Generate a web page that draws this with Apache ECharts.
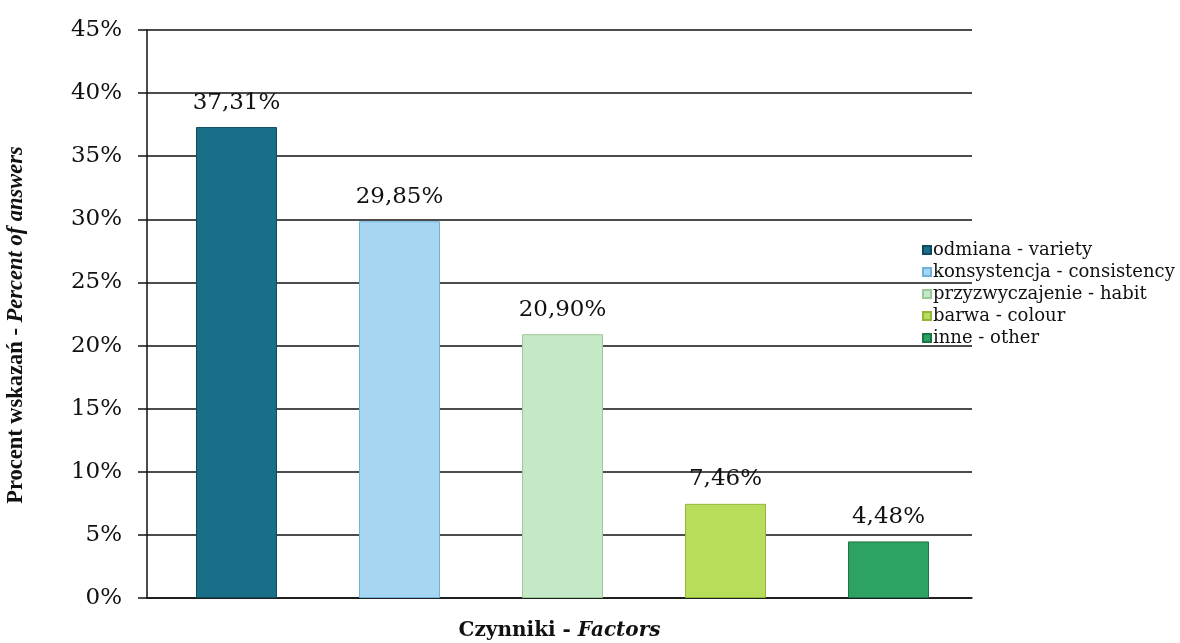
<!DOCTYPE html>
<html><head><meta charset="utf-8">
<script src="https://cdn.jsdelivr.net/npm/echarts@6/dist/echarts.min.js"></script>
<style>html,body{margin:0;background:#fff}#c{width:1180px;height:643px}</style>
</head><body><div id="c"></div>
<script>
const categories = ['odmiana - variety', 'konsystencja - consistency', 'przyzwyczajenie - habit', 'barwa - colour', 'inne - other'];
const values = [37.31, 29.85, 20.90, 7.46, 4.48];
const yTicks = { min: 0, max: 45, interval: 5 };

const fills = ['#1a6f88', '#a6d6f2', '#c5e9c7', '#b7dd5b', '#2ea263'];
const borders = ['#0f4a5e', '#6fb3d8', '#9cc99a', '#8fb83a', '#1a7444'];
const SERIF = '"Liberation Serif", "Times New Roman", serif';
const WIDE = '"DejaVu Serif", serif';

const chart = echarts.init(document.getElementById('c'), null, { renderer: 'canvas' });

const series = categories.map((name, i) => ({
  name: name,
  type: 'bar',
  xAxisIndex: 1,
  yAxisIndex: 1,
  barWidth: 81,
  barGap: '-100%',
  data: categories.map((c, j) => (j === i ? values[i] : null)),
  itemStyle: { color: fills[i], borderColor: borders[i], borderWidth: 1 },
  label: {
    show: true,
    position: 'top',
    distance: 13,
    fontFamily: WIDE,
    fontSize: 23,
    color: '#111',
    formatter: p => p.value.toFixed(2).replace('.', ',') + '%'
  }
}));

chart.setOption({
  backgroundColor: '#fff',
  animation: false,
  grid: [
    { left: 147, right: 208, top: 30, bottom: 45, outerBoundsMode: 'none', containLabel: false },
    { left: 155, width: 815, top: 30, bottom: 45, outerBoundsMode: 'none', containLabel: false }
  ],
  legend: {
    orient: 'vertical',
    left: 917,
    top: 236,
    icon: 'rect',
    itemWidth: 8,
    itemHeight: 8,
    itemGap: 4,
    textStyle: { fontFamily: WIDE, fontSize: 18, color: '#111', padding: [0, 0, 0, -3] },
    data: categories
  },
  xAxis: [
    {
      gridIndex: 0,
      type: 'category',
      data: categories,
      axisLine: { show: true, lineStyle: { color: '#111', width: 1.5 } },
      axisTick: { show: false },
      axisLabel: { show: false },
      name: '{a|Czynniki - }{b|Factors}',
      nameLocation: 'middle',
      nameGap: 23,
      nameTextStyle: {
        rich: {
          a: { fontFamily: WIDE, fontSize: 20, fontWeight: 'bold', color: '#111' },
          b: { fontFamily: WIDE, fontSize: 20, fontWeight: 'bold', fontStyle: 'italic', color: '#111' }
        }
      }
    },
    {
      gridIndex: 1,
      type: 'category',
      data: categories,
      show: false
    }
  ],
  yAxis: [
    {
      gridIndex: 0,
      type: 'value',
      min: yTicks.min,
      max: yTicks.max,
      interval: yTicks.interval,
      axisLine: { show: true, lineStyle: { color: '#111', width: 1.5 } },
      axisTick: { show: true, length: 9, lineStyle: { color: '#111', width: 1.5 } },
      axisLabel: {
        margin: 25,
        fontFamily: WIDE,
        fontSize: 23,
        color: '#111',
        formatter: '{value}%'
      },
      splitLine: { show: true, lineStyle: { color: '#111', width: 1.5 } },
      name: '{a|Procent wskazań - }{b|Percent of answers}',
      nameLocation: 'middle',
      nameRotate: 90,
      nameGap: 119,
      nameTextStyle: {
        padding: [0, 22, 0, 0],
        rich: {
          a: { fontFamily: SERIF, fontSize: 22.5, fontWeight: 'bold', color: '#111' },
          b: { fontFamily: SERIF, fontSize: 22.5, fontWeight: 'bold', fontStyle: 'italic', color: '#111' }
        }
      }
    },
    {
      gridIndex: 1,
      type: 'value',
      min: yTicks.min,
      max: yTicks.max,
      interval: yTicks.interval,
      show: false,
      splitLine: { show: false }
    }
  ],
  series: series
});
</script>
</body></html>
